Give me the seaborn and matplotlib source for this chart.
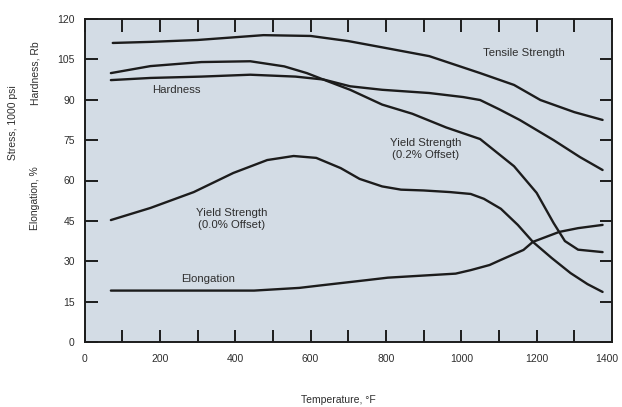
import matplotlib
matplotlib.use("Agg")
import matplotlib.pyplot as plt
import matplotlib.transforms as mtransforms
import seaborn as sns
import pandas as pd

# ---- data ----
tensile_temp = [75, 175, 300, 475, 600, 700, 785, 915, 1050, 1140, 1210, 1300, 1375]
tensile_val = [111.1, 111.5, 112.2, 114.0, 113.7, 111.8, 109.6, 106.2, 99.9, 95.5, 89.9, 85.4, 82.5]

yield02_temp = [70, 175, 310, 440, 530, 590, 645, 705, 790, 870, 960, 1050, 1140, 1200, 1245, 1275, 1310, 1375]
yield02_val = [99.9, 102.5, 104.0, 104.3, 102.4, 99.9, 96.9, 93.7, 88.2, 84.8, 79.7, 75.4, 65.3, 55.4, 44.2, 37.5, 34.3, 33.4]

hard_temp = [70, 175, 310, 440, 560, 635, 705, 790, 915, 1005, 1050, 1100, 1155, 1245, 1315, 1375]
hard_val = [97.3, 98.1, 98.6, 99.3, 98.6, 97.5, 95.0, 93.7, 92.5, 91.0, 89.9, 86.5, 82.5, 75.0, 68.7, 63.9]

yield00_temp = [70, 175, 290, 395, 485, 555, 615, 680, 730, 790, 840, 900, 970, 1025, 1060, 1105, 1150, 1190, 1240, 1290, 1335, 1375]
yield00_val = [45.3, 49.8, 55.7, 62.8, 67.6, 69.1, 68.4, 64.6, 60.6, 57.8, 56.6, 56.3, 55.7, 55.0, 53.2, 49.5, 43.5, 37.2, 31.2, 25.6, 21.5, 18.6]

elong_temp = [70, 250, 450, 570, 625, 750, 805, 925, 985, 1025, 1075, 1105, 1165, 1190, 1260, 1310, 1375]
elong_val = [19.1, 19.1, 19.1, 20.1, 21.0, 23.0, 23.9, 24.9, 25.4, 26.7, 28.6, 30.5, 34.2, 37.2, 40.9, 42.3, 43.5]

x_ticks = list(range(0, 1401, 100))
x_tick_labels = [str(t) if t % 200 == 0 else "" for t in x_ticks]
y_ticks = [0, 15, 30, 45, 60, 75, 90, 105, 120]

series = [
    ("Tensile Strength", tensile_temp, tensile_val),
    ("Yield Strength (0.2% Offset)", yield02_temp, yield02_val),
    ("Hardness", hard_temp, hard_val),
    ("Yield Strength (0.0% Offset)", yield00_temp, yield00_val),
    ("Elongation", elong_temp, elong_val),
]

# ---- style ----
sns.set_style("ticks")
plt.rcParams["font.family"] = ["Liberation Sans", "DejaVu Sans"]

ink = "#1c1c1c"
txt = "#2e2e2e"

fig = plt.figure(figsize=(6.22, 4.07), dpi=100)
fig.patch.set_facecolor("white")
ax = fig.add_axes([84.5 / 622, 1 - 342 / 407, (612 - 84.5) / 622, (342 - 19) / 407])
ax.set_facecolor("#d3dce5")

for name, t, v in series:
    df = pd.DataFrame({"temp": t, "val": v})
    sns.lineplot(data=df, x="temp", y="val", ax=ax, color=ink, linewidth=1.7,
                 sort=False, estimator=None)
for line in ax.get_lines():
    line.set_solid_joinstyle("round")
    line.set_solid_capstyle("round")

ax.set_xlim(0, 1400)
ax.set_ylim(0, 120)
ax.set_xticks(x_ticks)
ax.set_xticklabels(x_tick_labels)
ax.set_yticks(y_ticks)
ax.set_yticklabels([str(v) for v in y_ticks])
ax.tick_params(axis="both", direction="in", length=9, width=1.4, color=ink,
               labelsize=7.5, labelcolor=txt, top=True, right=True)
ax.tick_params(axis="x", pad=9)
ax.tick_params(axis="y", pad=7)
ax.set_xlabel("")
ax.set_ylabel("")
for side, sp in ax.spines.items():
    sp.set_visible(True)
    sp.set_color(ink)
    sp.set_linewidth(1.4)

# keep the last x label ("1400") inside the figure
last = ax.get_xticklabels()[-1]
last.set_transform(last.get_transform() +
                   mtransforms.ScaledTranslation(-5 / 100, 0, fig.dpi_scale_trans))

# ---- curve labels ----
fs = 8.2
ax.text(1166, 107.4, "Tensile Strength", ha="center", va="center", fontsize=fs, color=txt)
ax.text(179, 93.6, "Hardness", ha="left", va="center", fontsize=fs, color=txt)
ax.text(905, 71.7, "Yield Strength\n(0.2% Offset)", ha="center", va="center",
        fontsize=fs, color=txt, linespacing=1.3)
ax.text(391, 45.7, "Yield Strength\n(0.0% Offset)", ha="center", va="center",
        fontsize=fs, color=txt, linespacing=1.3)
ax.text(328, 23.4, "Elongation", ha="center", va="center", fontsize=fs, color=txt)

# ---- axis titles ----
fig.text(13 / 622, 1 - 123 / 407, "Stress, 1000 psi", rotation=90, ha="center",
         va="center", fontsize=7.5, color=txt)
fig.text(36 / 622, 1 - 73 / 407, "Hardness, Rb", rotation=90, ha="center",
         va="center", fontsize=7.5, color=txt)
fig.text(35 / 622, 1 - 198 / 407, "Elongation, %", rotation=90, ha="center",
         va="center", fontsize=7.5, color=txt)
fig.text(338 / 622, 1 - 400 / 407, "Temperature, °F", ha="center", va="center",
         fontsize=7.5, color=txt)

fig.savefig("out.png", dpi=100, facecolor="white")
